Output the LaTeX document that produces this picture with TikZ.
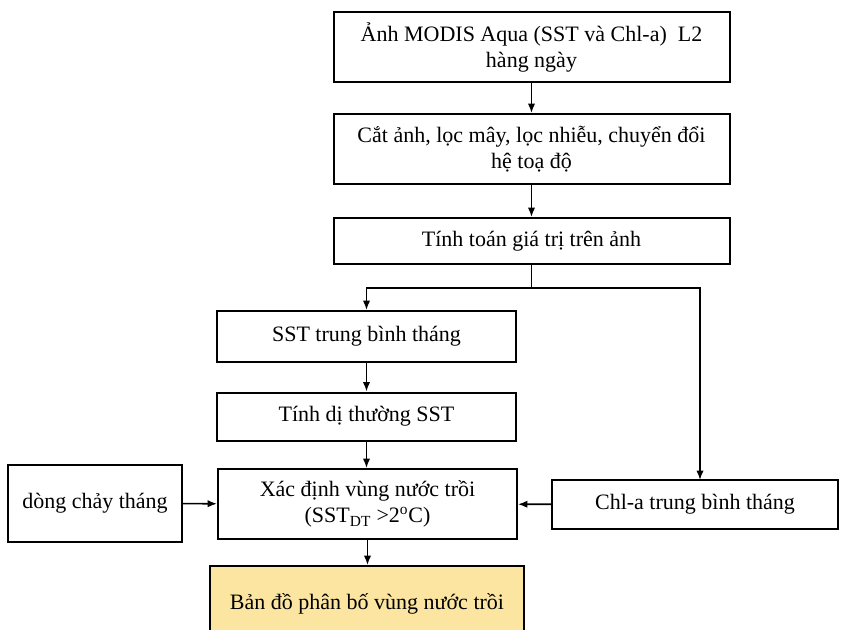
\documentclass[tikz,border=0pt]{standalone}
\usepackage{fontspec}
\setmainfont{Liberation Serif}
\usetikzlibrary{arrows.meta}
\definecolor{mapfill}{RGB}{251,229,160}

\begin{document}
\begin{tikzpicture}[x=0.75pt,y=0.75pt,yscale=-1,xscale=1,
  stepbox/.style={draw, line width=1.5pt, align=center, inner sep=0pt, font=\fontsize{16.5}{20}\selectfont},
  flow/.style={-{Latex[length=7pt,width=5.5pt]}, line width=1.2pt}]
%set diagram size 841 x 630
\clip (0,0) rectangle (841,630);
% Text Node
\node [stepbox, minimum width=297pt, minimum height=52.5pt] (modis) at (531.5,47.5) {Ảnh MODIS Aqua (SST và Chl-a)~~L2\\hàng ngày};
% Text Node
\node [stepbox, minimum width=297pt, minimum height=52.5pt] (cut) at (531.5,149) {Cắt ảnh, lọc mây, lọc nhiễu, chuyển đổi\\hệ toạ độ};
% Text Node
\node [stepbox, minimum width=297pt, minimum height=34.5pt] (calc) at (531.5,241) {Tính toán giá trị trên ảnh};
% Text Node
\node [stepbox, minimum width=224.25pt, minimum height=38.25pt] (sstmean) at (366.5,336.5) {SST trung bình tháng};
% Text Node
\node [stepbox, minimum width=224.25pt, minimum height=36pt] (anom) at (366.5,416.5) {Tính dị thường SST};
% Text Node
\node [stepbox, minimum width=224.25pt, minimum height=52.5pt] (upw) at (367.5,504) {Xác định vùng nước trồi\\(SST\textsubscript{DT} >2\textsuperscript{o}C)};
% Text Node
\node [stepbox, minimum width=130.5pt, minimum height=57.75pt] (current) at (95,503.5) {dòng chảy tháng};
% Text Node
\node [stepbox, minimum width=214.5pt, minimum height=36.75pt] (chl) at (695,504.5) {Chl-a trung bình tháng};
% Text Node
\node [stepbox, fill=mapfill, minimum width=235.5pt, minimum height=57pt] (map) at (367,604) {Bản đồ phân bố vùng nước trồi};
%Straight Lines
\coordinate (split) at (531.5,288);
\coordinate (chltop) at (700,480);
\draw [flow] (modis) -- (cut);
\draw [flow] (cut) -- (calc);
\draw [line width=1.2pt] (calc) -- (split);
\draw [flow] (split) -| (sstmean);
\draw [flow] (split) -| (chltop);
\draw [flow] (sstmean) -- (anom);
\draw [flow] (anom.south) -- (anom.south |- upw.north);
\draw [flow] (current) -- (upw);
\draw [flow] (chl) -- (upw);
\draw [flow] (upw.south) -- (upw.south |- map.north);
\end{tikzpicture}
\end{document}
